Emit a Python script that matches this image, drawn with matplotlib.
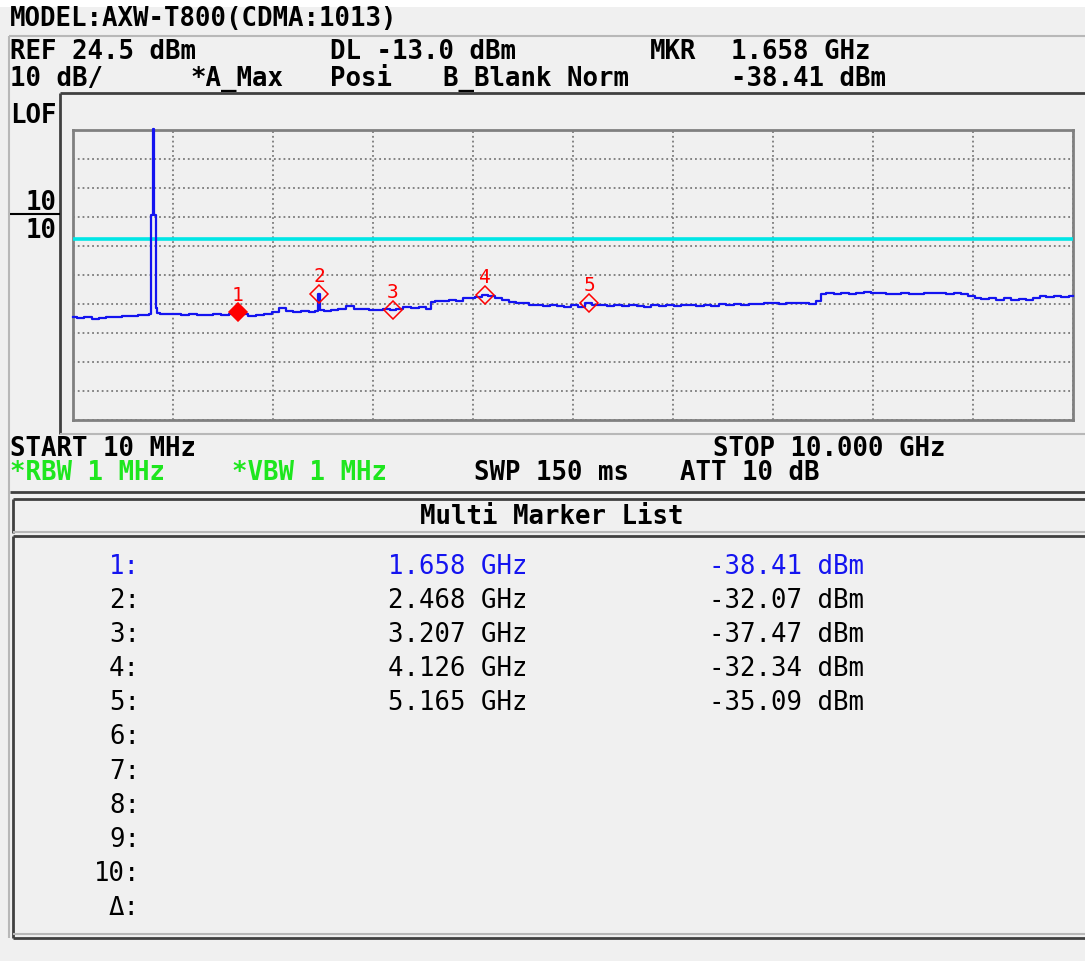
import numpy as np
import matplotlib
matplotlib.use("Agg")
import matplotlib.pyplot as plt

# Instrument settings
REF_LEVEL = 24.5      # dBm, top of screen
DB_PER_DIV = 10.0
DISPLAY_LINE = -13.0  # dBm
START_GHZ = 0.01
STOP_GHZ = 10.0

# Sweep trace
trace_freq = [0.01, 0.08, 0.16, 0.23, 0.30, 0.38, 0.46, 0.54, 0.62, 0.69, 0.76,
              0.785, 0.795, 0.808, 0.818, 0.826, 0.833, 0.842, 0.855,
              0.90, 0.97, 1.05, 1.13, 1.21, 1.29, 1.37, 1.45, 1.53, 1.60, 1.658,
              1.72, 1.80, 1.88, 1.96, 2.04, 2.10, 2.17, 2.25, 2.33, 2.40, 2.45,
              2.468, 2.485, 2.55, 2.62, 2.70, 2.78, 2.85, 2.93, 3.00, 3.07, 3.14,
              3.207, 3.27, 3.35, 3.43, 3.50, 3.57, 3.60, 3.66, 3.73, 3.80, 3.87,
              3.94, 4.00, 4.06, 4.126, 4.19, 4.26, 4.33, 4.40, 4.47, 4.53, 4.60,
              4.67, 4.74, 4.81, 4.88, 4.95, 5.02, 5.09, 5.165, 5.23, 5.30, 5.38,
              5.45, 5.53, 5.60, 5.68, 5.75, 5.82, 5.90, 5.97, 6.05, 6.12, 6.20,
              6.27, 6.35, 6.42, 6.50, 6.57, 6.65, 6.72, 6.80, 6.87, 6.95, 7.02,
              7.10, 7.17, 7.25, 7.32, 7.40, 7.46, 7.50, 7.57, 7.65, 7.72, 7.80,
              7.87, 7.95, 8.02, 8.10, 8.17, 8.25, 8.32, 8.40, 8.47, 8.55, 8.62,
              8.70, 8.77, 8.85, 8.92, 8.99, 9.05, 9.12, 9.20, 9.27, 9.35, 9.42,
              9.50, 9.57, 9.64, 9.70, 9.77, 9.85, 9.92, 10.0]
trace_dbm = [-40.0, -40.2, -40.0, -40.5, -40.3, -39.9, -40.0, -39.5, -39.6, -39.2, -39.3,
             -39.0, -4.8, -4.8, 25.0, -4.8, -4.8, -36.8, -38.5,
             -38.9, -39.1, -38.8, -39.2, -39.0, -39.4, -39.3, -38.9, -39.2, -38.9, -38.41,
             -39.0, -39.6, -39.4, -38.9, -38.2, -37.0, -38.0, -38.3, -38.0, -38.2, -37.9,
             -32.07, -37.6, -37.8, -37.5, -37.2, -36.2, -37.3, -37.1, -37.4, -37.6, -37.3,
             -37.47, -37.2, -36.7, -37.0, -36.6, -37.3, -34.7, -34.3, -34.5, -34.1, -34.4,
             -33.6, -33.4, -33.1, -32.34, -32.8, -33.4, -34.1, -34.8, -35.0, -35.3, -35.8,
             -36.0, -36.3, -35.9, -36.2, -36.4, -35.9, -36.5, -35.09, -36.0, -35.8, -36.2,
             -36.0, -36.3, -35.9, -36.1, -36.4, -35.9, -36.2, -36.0, -36.3, -35.7, -36.0,
             -36.2, -35.8, -36.1, -35.6, -35.9, -35.5, -35.8, -35.4, -35.6, -35.3, -35.1,
             -35.4, -35.2, -35.3, -35.0, -35.6, -34.4, -31.9, -31.8, -32.0, -31.6, -31.9,
             -31.7, -31.5, -31.8, -31.6, -31.9, -32.2, -31.8, -31.9, -32.1, -31.7, -31.8,
             -31.7, -31.9, -31.6, -31.9, -32.6, -33.4, -33.8, -33.5, -34.0, -33.6, -34.2,
             -33.8, -34.0, -33.3, -32.9, -33.2, -32.8, -33.0, -32.9]

# Multi marker list
marker_ids = [1, 2, 3, 4, 5]
marker_ghz = [1.658, 2.468, 3.207, 4.126, 5.165]
marker_dbm = [-38.41, -32.07, -37.47, -32.34, -35.09]
list_rows = ["1:", "2:", "3:", "4:", "5:", "6:", "7:", "8:", "9:", "10:", "\u0394:"]

BG = "#f0f0f0"
BLUE = "#1414f0"
GREEN = "#1ee61e"
MONO = "DejaVu Sans Mono"

W, H = 1085, 961
fig = plt.figure(figsize=(W / 100, H / 100), dpi=100, facecolor=BG)

# full-figure overlay in pixel units for frames and annotations
bg = fig.add_axes([0, 0, 1, 1], zorder=0)
bg.set_xlim(0, W)
bg.set_ylim(H, 0)
bg.axis("off")

def hline(y, x0, x1, color="#404040", lw=1.6):
    bg.plot([x0, x1], [y, y], color=color, lw=lw, solid_capstyle="butt")

def vline(x, y0, y1, color="#404040", lw=1.6):
    bg.plot([x, x], [y0, y1], color=color, lw=lw, solid_capstyle="butt")

def txt(x, y, s, ha="left", color="black", size=18.5, weight="bold"):
    bg.text(x, y, s, ha=ha, va="center", color=color, fontsize=size,
            family=MONO, fontweight=weight)

# white strip at top
bg.fill_between([0, W], 0, 7, color="white", lw=0)

# frames
hline(36, 9, W, color="#b8b8b8", lw=1.5)
vline(9, 36, 938, color="#b8b8b8", lw=1.5)
hline(93, 60, W, lw=2.0)
vline(60, 93, 434, lw=2.0)
hline(434, 60, W, color="#b8b8b8", lw=1.5)
hline(214, 10, 60, color="black", lw=1.5)
hline(492, 10, W, lw=2.0)
hline(499, 13, W, lw=2.0)
vline(13, 499, 533, lw=2.0)
hline(532, 13, W, color="#b8b8b8", lw=1.5)
hline(536, 13, W, lw=2.0)
vline(13, 536, 938, lw=2.0)
hline(934, 13, W, color="#b8b8b8", lw=1.5)
hline(938, 13, W, lw=2.0)

# header
txt(10, 19, "MODEL:AXW-T800(CDMA:1013)")
txt(10, 52, f"REF {REF_LEVEL:.1f} dBm")
txt(330, 52, f"DL {DISPLAY_LINE:.1f} dBm")
txt(650, 52, "MKR")
txt(731, 52, f"{marker_ghz[0]:.3f} GHz")
txt(10, 79, f"{DB_PER_DIV:.0f} dB/")
txt(190, 79, "*A_Max")
txt(330, 79, "Posi")
txt(443, 79, "B_Blank Norm")
txt(731, 79, f"{marker_dbm[0]:.2f} dBm")
txt(10, 116, "LOF")
txt(57, 203, "10", ha="right")
txt(57, 231, "10", ha="right")

# footer of the trace panel
txt(10, 449, "START 10 MHz")
txt(713, 449, f"STOP {STOP_GHZ:.3f} GHz")
txt(10, 473, "*RBW 1 MHz", color=GREEN)
txt(232, 473, "*VBW 1 MHz", color=GREEN)
txt(474, 473, "SWP 150 ms")
txt(680, 473, "ATT 10 dB")
txt(552, 517, "Multi Marker List", ha="center")

# marker list
for i, row in enumerate(list_rows):
    y = 567 + i * 34.1
    col = BLUE if i == 0 else "black"
    txt(140, y, row, ha="right", color=col, weight="normal")
    if i < len(marker_ghz):
        txt(527, y, f"{marker_ghz[i]:.3f} GHz", ha="right", color=col, weight="normal")
        txt(864, y, f"{marker_dbm[i]:.2f} dBm", ha="right", color=col, weight="normal")

# spectrum screen
ax = fig.add_axes([73 / W, 1 - 420 / H, 1000 / W, 290 / H], zorder=2)
ax.set_facecolor(BG)
bottom = REF_LEVEL - 10 * DB_PER_DIV
ax.set_xlim(START_GHZ, STOP_GHZ)
ax.set_ylim(bottom, REF_LEVEL)
ax.set_xticks(np.linspace(START_GHZ, STOP_GHZ, 11))
ax.set_yticks(np.arange(bottom, REF_LEVEL + 1, DB_PER_DIV))
ax.tick_params(length=0, labelbottom=False, labelleft=False)
ax.grid(True, color="#7a7a7a", ls=":", lw=1.3)
for sp in ax.spines.values():
    sp.set_color("#808080")
    sp.set_linewidth(2)

ax.axhline(DISPLAY_LINE, color="#00e6e6", lw=2.6, zorder=3)
ax.plot(trace_freq, trace_dbm, color=BLUE, lw=1.6, drawstyle="steps-mid",
        zorder=4, clip_on=False)

for mid, f, lv in zip(marker_ids, marker_ghz, marker_dbm):
    fill = "red" if mid == 1 else "none"
    ax.plot([f], [lv], marker="D", ms=9.5, mfc=fill, mec="red", mew=1.1, zorder=5)
    ax.annotate(str(mid), xy=(f, lv), xytext=(0, 12.5), textcoords="offset points",
                ha="center", va="center", color="red", fontsize=14, family=MONO,
                zorder=6)

fig.savefig("out.png", dpi=100, facecolor=BG)
